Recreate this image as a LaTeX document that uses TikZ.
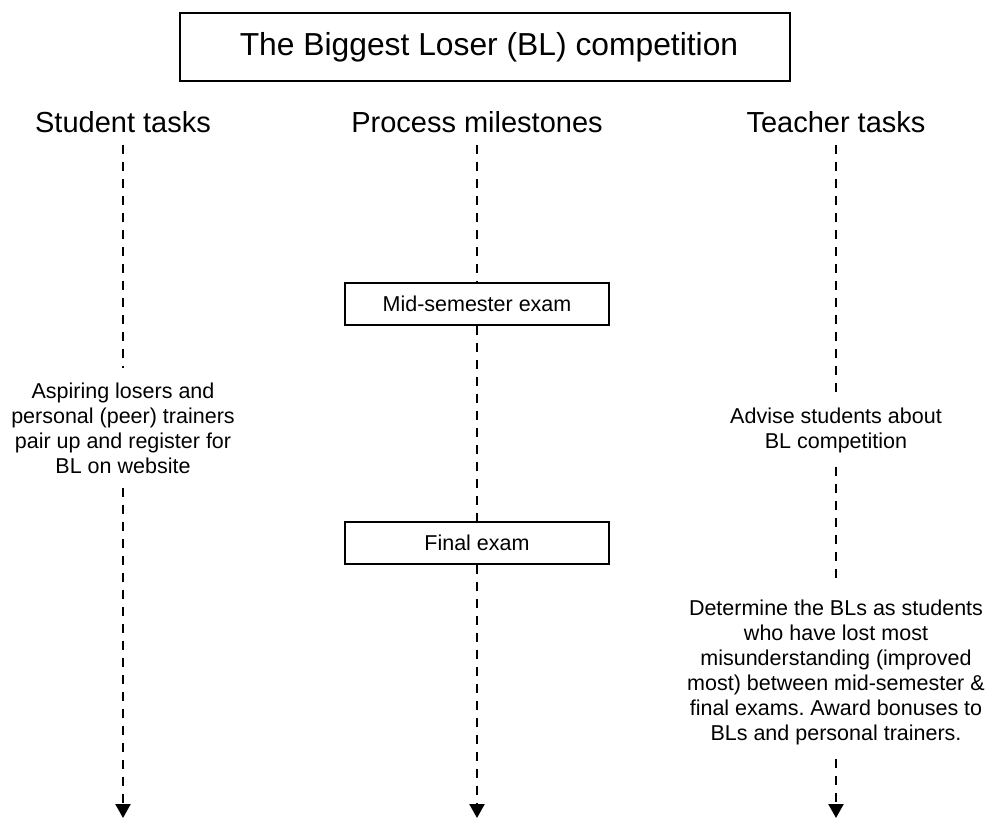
\documentclass[tikz,border=0pt]{standalone}
\usepackage{fontspec}
\setmainfont{Liberation Sans}
\usetikzlibrary{arrows.meta,positioning}
\definecolor{inkblack}{HTML}{000000}
\frenchspacing
\tikzset{
  titlebox/.style={rectangle, draw=inkblack, fill=none, minimum width=610pt, minimum height=68pt, line width=1.3pt, font=\fontsize{31.8}{36}\selectfont},
  lanehead/.style={inner sep=12pt, font=\fontsize{29}{33}\selectfont},
  milestone/.style={rectangle, draw=inkblack, fill=none, minimum width=264pt, minimum height=42pt, line width=1.3pt, font=\fontsize{21.5}{25}\selectfont},
  task/.style={align=center, inner sep=14pt, font=\fontsize{21.5}{25}\selectfont},
  timeline/.style={draw=inkblack, line width=2.3pt, dash pattern=on 9pt off 8pt},
  timearrow/.style={timeline, -{Triangle[length=14pt,width=15pt]}}
}
\begin{document}
\begin{tikzpicture}[x=1pt, y=-1pt]
  \useasboundingbox (0,0) rectangle (989,820);
  \node[titlebox] (title) at (485,47) {\hspace*{8pt}The Biggest Loser (BL) competition};

  % lane headings
  \node[lanehead] (stud) at (123,122) {Student tasks};
  \node[lanehead] (proc) at (477,122) {Process milestones};
  \node[lanehead] (teach) at (836,122) {Teacher tasks};

  % student lane
  \node[task] (register) at (123,428) {Aspiring losers and\\personal (peer) trainers\\pair up and register for\\BL on website};
  \coordinate (studend) at (123,818);
  \draw[timeline] (stud) -- (register);
  \draw[timearrow] (register) -- (studend);

  % milestones
  \node[milestone] (mid) at (477,304) {Mid-semester exam};
  \node[milestone] (final) at (477,543) {Final exam};
  \coordinate (procend) at (477,818);
  \draw[timeline] (proc) -- (mid);
  \draw[timeline] (mid) -- (final);
  \draw[timearrow] (final) -- (procend);

  % teacher lane
  \node[task] (advise) at (836,430) {Advise students about\\BL competition};
  \node[task] (award) at (836,672) {Determine the BLs as students\\who have lost most\\misunderstanding (improved\\most) between mid-semester \&\\final exams. Award bonuses to\\BLs and personal trainers.};
  \coordinate (teachend) at (836,818);
  \draw[timeline] (teach) -- (advise);
  \draw[timeline] (advise) -- (award);
  \draw[timearrow] (award) -- (teachend);
\end{tikzpicture}
\end{document}
